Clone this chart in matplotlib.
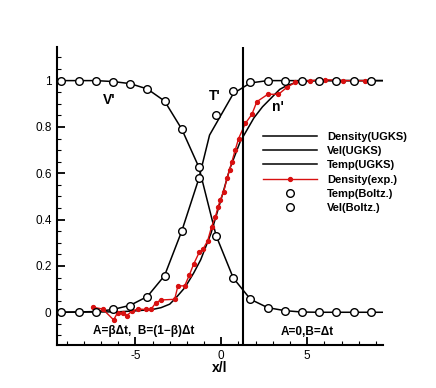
import matplotlib
matplotlib.use("Agg")
import matplotlib.pyplot as plt
from matplotlib.lines import Line2D
from matplotlib.ticker import MultipleLocator

plt.rcParams['font.family'] = ['Liberation Sans', 'DejaVu Sans']
plt.rcParams['axes.unicode_minus'] = False

# Boltzmann (circles), sampled every 1 unit
x_boltz = [-9.3, -8.3, -7.3, -6.3, -5.3, -4.3, -3.3, -2.3, -1.3, -0.3,
           0.7, 1.7, 2.7, 3.7, 4.7, 5.7, 6.7, 7.7, 8.7]
vel_boltz = [1.0, 1.0, 1.0, 0.996, 0.987, 0.964, 0.912, 0.791, 0.626, 0.331,
             0.148, 0.056, 0.020, 0.007, 0.001, 0.0, 0.0, 0.0, 0.0]
temp_boltz = [0.0, 0.0, 0.003, 0.013, 0.029, 0.068, 0.158, 0.350, 0.578, 0.852,
              0.957, 0.993, 0.999, 1.0, 1.0, 1.0, 1.0, 1.0, 1.0]

# UGKS lines
x_vel = [-9.5] + x_boltz + [9.4]
vel_ugks = [1.0] + vel_boltz + [0.0]

x_temp = [-9.5, -7.3, -6.3, -5.3, -4.3, -3.3, -2.3, -1.3, -0.68, 0.71, 1.7, 2.7, 9.4]
temp_ugks = [0.0, 0.003, 0.012, 0.03, 0.068, 0.158, 0.35, 0.578, 0.765, 0.945, 0.99, 1.0, 1.0]

x_dens = [-9.5, -6, -5, -4, -3.5, -3, -2.7, -2.1, -1.6, -1.2, -0.6, 0, 0.5, 1.1,
          1.9, 2.4, 3.4, 3.8, 4.4, 5.5, 9.4]
dens_ugks = [0.0, 0.002, 0.006, 0.012, 0.02, 0.035, 0.057, 0.108, 0.17, 0.226, 0.34,
             0.49, 0.62, 0.736, 0.839, 0.887, 0.962, 0.978, 0.993, 1.0, 1.0]

# experiment
x_exp = [-7.48, -6.90, -6.26, -6.03, -5.74, -5.48, -5.19, -4.84, -4.38, -4.09,
         -3.82, -3.51, -2.71, -2.52, -2.13, -1.86, -1.61, -1.28, -1.07, -0.79,
         -0.56, -0.35, -0.19, -0.06, 0.14, 0.33, 0.48, 0.62, 0.81, 1.01,
         1.40, 1.78, 2.07, 2.71, 3.33, 3.82, 4.30, 5.17, 6.05, 7.11, 8.37]
dens_exp = [0.022, 0.014, -0.033, -0.001, -0.001, -0.014, 0.006, 0.014, 0.012, 0.012,
            0.040, 0.053, 0.056, 0.114, 0.114, 0.160, 0.207, 0.259, 0.271, 0.309,
            0.370, 0.410, 0.453, 0.485, 0.519, 0.578, 0.614, 0.650, 0.700, 0.750,
            0.815, 0.854, 0.909, 0.941, 0.941, 0.971, 0.992, 1.0, 1.004, 1.0, 1.0]

x_split = 1.25

fig = plt.figure(figsize=(4.36, 3.88), dpi=100)
ax = fig.add_axes([0.131, 0.111, 0.747, 0.769])

ax.plot(x_dens, dens_ugks, color='black', lw=1.1)
ax.plot(x_vel, vel_ugks, color='black', lw=1.1)
ax.plot(x_temp, temp_ugks, color='black', lw=1.1)
ax.plot(x_exp, dens_exp, color='#d81010', lw=1.0, marker='o', ms=2.8, mec='#d81010')
ax.plot(x_boltz, temp_boltz, ls='none', marker='o', ms=5.5, mfc='white', mec='black', mew=1.0)
ax.plot(x_boltz, vel_boltz, ls='none', marker='o', ms=5.5, mfc='white', mec='black', mew=1.0)
ax.axvline(x_split, color='black', lw=1.5)

ax.set_xlim(-9.55, 9.4)
ax.set_ylim(-0.141, 1.147)
ax.spines['top'].set_visible(False)
ax.spines['right'].set_visible(False)
ax.spines['left'].set_linewidth(1.5)
ax.spines['bottom'].set_linewidth(1.5)
ax.xaxis.set_major_locator(MultipleLocator(5))
ax.xaxis.set_minor_locator(MultipleLocator(1))
ax.yaxis.set_major_locator(MultipleLocator(0.2))
ax.yaxis.set_minor_locator(MultipleLocator(0.05))
ax.set_yticks([0, 0.2, 0.4, 0.6, 0.8, 1])
ax.set_yticklabels(['0', '0.2', '0.4', '0.6', '0.8', '1'])
ax.tick_params(which='major', direction='in', length=6, width=1.3, labelsize=8.5, pad=4)
ax.tick_params(which='minor', direction='in', length=3, width=0.8)
ax.set_xlabel('x/l', fontsize=10, fontweight='bold', labelpad=-1)

ax.text(-6.5, 0.915, "V'", fontsize=10, fontweight='bold', ha='center', va='center')
ax.text(-0.35, 0.935, "T'", fontsize=10, fontweight='bold', ha='center', va='center')
ax.text(3.3, 0.885, "n'", fontsize=10, fontweight='bold', ha='center', va='center')
ax.text(-4.5, -0.082, "A=\u03b2\u0394t,  B=(1\u2212\u03b2)\u0394t", fontsize=8.5, fontweight='bold',
        ha='center', va='center')
ax.text(5.0, -0.085, "A=0,B=\u0394t", fontsize=8.5, fontweight='bold', ha='center', va='center')

handles = [
    Line2D([], [], color='black', lw=1.1),
    Line2D([], [], color='black', lw=1.1),
    Line2D([], [], color='black', lw=1.1),
    Line2D([], [], color='#d81010', lw=1.0, marker='o', ms=2.8),
    Line2D([], [], ls='none', marker='o', ms=5.5, mfc='white', mec='black'),
    Line2D([], [], ls='none', marker='o', ms=5.5, mfc='white', mec='black'),
]
labels = ['Density(UGKS)', 'Vel(UGKS)', 'Temp(UGKS)', 'Density(exp.)', 'Temp(Boltz.)', 'Vel(Boltz.)']
leg = fig.legend(handles, labels, loc='upper left', bbox_to_anchor=(0.603, 0.66),
                 frameon=False, prop={'weight': 'bold', 'size': 8}, handlelength=4.9,
                 handletextpad=0.9, labelspacing=0.38, numpoints=1, borderpad=0,
                 borderaxespad=0)

fig.savefig('out.png', dpi=100)
